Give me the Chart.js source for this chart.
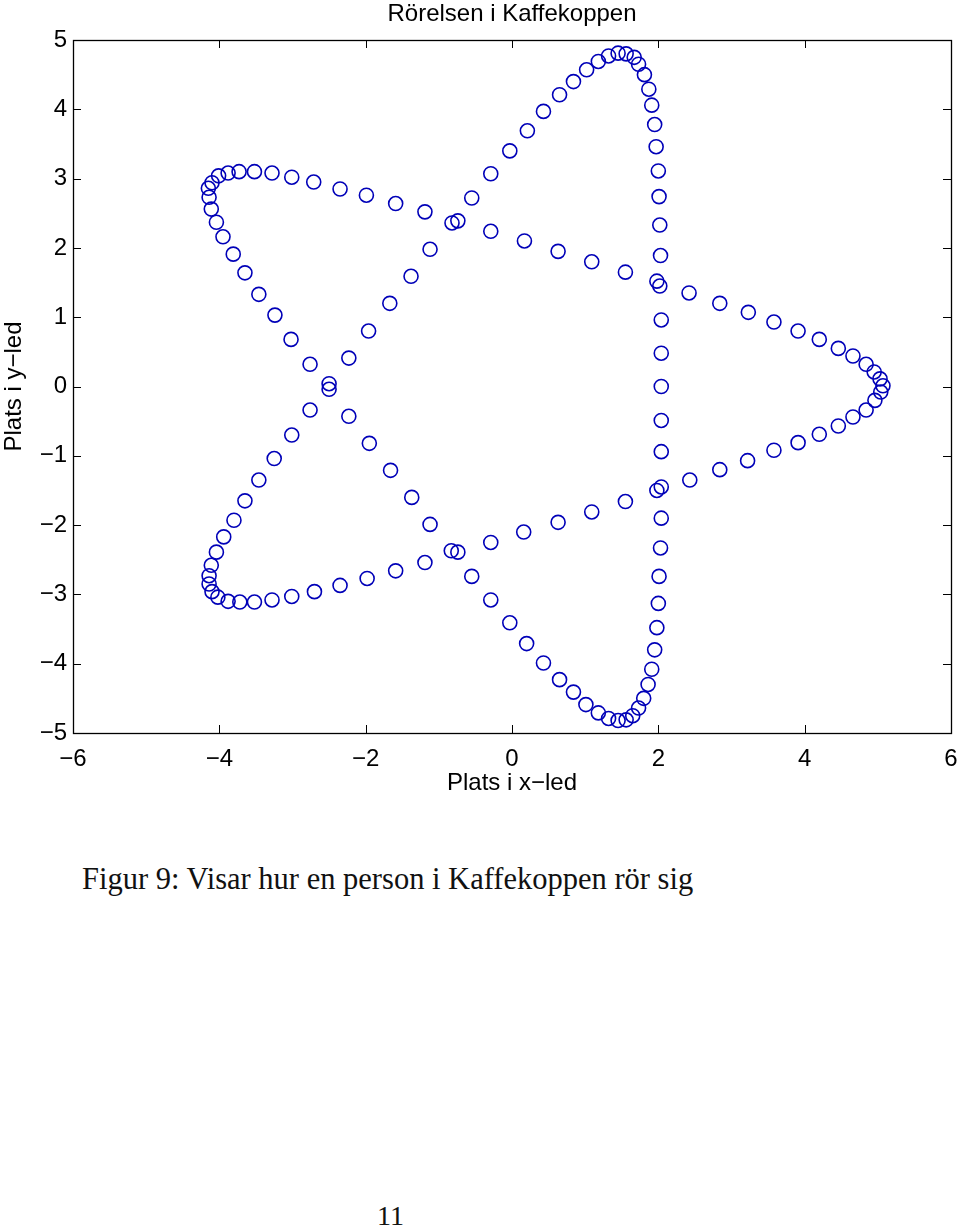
<!DOCTYPE html>
<html>
<head>
<meta charset="utf-8">
<script src="https://cdn.jsdelivr.net/npm/chart.js@4.4.0/dist/chart.umd.min.js"></script>
<style>
  html, body { margin: 0; padding: 0; background: #fff; }
  body { width: 960px; height: 1226px; position: relative; overflow: hidden; }
  #wrap { position: absolute; left: 0; top: 0; width: 960px; height: 810px; }
  .serif { position: absolute; font-family: 'Liberation Serif', 'Times New Roman', serif; line-height: 28px; color: #111; white-space: nowrap; }
  #caption { left: 82px; top: 865px; font-size: 30.5px; }
  #pagenum { left: 377px; top: 1202px; font-size: 28px; }
</style>
</head>
<body>
<div id="wrap"><canvas id="kaffe" width="960" height="810"></canvas></div>
<div id="caption" class="serif">Figur 9: Visar hur en person i Kaffekoppen rör sig</div>
<div id="pagenum" class="serif">11</div>
<script>
// Rörelsen i Kaffekoppen — punkter

const chartTitle = "Rörelsen i Kaffekoppen";
const xTitle = "Plats i x\u2212led";
const yTitle = "Plats i y\u2212led";

const xTickVals = [-6, -4, -2, 0, 2, 4, 6];
const yTickVals = [-5, -4, -3, -2, -1, 0, 1, 2, 3, 4, 5];

// x-led
const xVals = [
  5.03, 4.95, 4.84, 4.66, 4.46, 4.20, 3.91, 3.58, 3.23, 2.84, 2.42, 2.02, 1.98,
  1.55, 1.09, 0.63, 0.17, -0.29, -0.74, -0.82, -1.19, -1.59, -1.99, -2.35, -2.71,
  -3.01, -3.28, -3.52, -3.73, -3.88, -4.01, -4.10, -4.15, -4.14, -4.11, -4.04,
  -3.95, -3.81, -3.65, -3.46, -3.24, -3.02, -2.76, -2.50, -2.50,
  -2.76, -3.01, -3.25, -3.46, -3.65, -3.80, -3.94, -4.04, -4.11, -4.14, -4.14,
  -4.10, -4.02, -3.88, -3.72, -3.52, -3.28, -3.01, -2.70, -2.35, -1.98, -1.59,
  -1.19, -0.83, -0.74, -0.29, 0.16, 0.63, 1.09, 1.55, 1.98, 2.04, 2.43, 2.84,
  3.22, 3.58, 3.91, 4.20, 4.46, 4.66, 4.84, 4.96, 5.04, 5.07,
  -2.23, -1.96, -1.67, -1.38, -1.12, -0.55, -0.29, -0.03, 0.21, 0.43, 0.65, 0.84,
  1.02, 1.18, 1.32, 1.45, 1.56, 1.67, 1.73, 1.81, 1.87, 1.91, 1.95, 1.97, 2.00,
  2.01, 2.02, 2.03, 2.04, 2.04, 2.04, 2.04, 2.04, 2.04, 2.03, 2.01, 2.00, 1.98,
  1.95, 1.91, 1.86, 1.80, 1.73, 1.65, 1.56, 1.45, 1.32, 1.18, 1.01, 0.84, 0.65,
  0.43, 0.20, -0.03, -0.29, -0.55, -1.12, -1.37, -1.66, -1.95, -2.23
];

// y-led
const yVals = [
  0.11, 0.21, 0.32, 0.44, 0.55, 0.68, 0.80, 0.93, 1.07, 1.20, 1.35, 1.45, 1.52,
  1.65, 1.80, 1.95, 2.10, 2.24, 2.39, 2.36, 2.52, 2.64, 2.76, 2.85, 2.95,
  3.02, 3.08, 3.10, 3.10, 3.08, 3.04, 2.94, 2.86, 2.73, 2.56, 2.37,
  2.16, 1.91, 1.64, 1.33, 1.03, 0.68, 0.32, 0.04, -0.04,
  -0.34, -0.70, -1.04, -1.35, -1.65, -1.93, -2.17, -2.39, -2.58, -2.73, -2.85,
  -2.96, -3.04, -3.10, -3.11, -3.11, -3.08, -3.03, -2.96, -2.87, -2.77, -2.66,
  -2.54, -2.37, -2.39, -2.25, -2.10, -1.96, -1.81, -1.66, -1.50, -1.45, -1.35, -1.20,
  -1.07, -0.92, -0.81, -0.69, -0.57, -0.44, -0.34, -0.20, -0.08, 0.01,
  0.41, 0.80, 1.20, 1.59, 1.98, 2.72, 3.07, 3.40, 3.69, 3.97, 4.21, 4.40,
  4.57, 4.69, 4.77, 4.81, 4.80, 4.75, 4.65, 4.50, 4.29, 4.06, 3.78, 3.46, 3.11,
  2.74, 2.33, 1.89, 0.96, 0.48, 0.00, -0.49, -0.94, -1.90, -2.33, -2.74, -3.13, -3.48,
  -3.80, -4.08, -4.30, -4.50, -4.64, -4.75, -4.81, -4.82, -4.79, -4.71, -4.59, -4.41, -4.23,
  -3.99, -3.71, -3.41, -3.08, -2.74, -1.99, -1.60, -1.21, -0.82, -0.43
];

const sansFont = "'Liberation Sans', Arial, Helvetica, sans-serif";
const minus = v => String(v).replace('-', '\u2212');

// ram och inåtriktade tickar som i MATLAB
const matlabFrame = {
  id: 'matlabFrame',
  afterDatasetsDraw(chart) {
    const { ctx, chartArea: a, scales } = chart;
    const len = 8;
    ctx.save();
    ctx.strokeStyle = '#000';
    ctx.lineWidth = 1;
    ctx.beginPath();
    scales.x.ticks.forEach(t => {
      const px = Math.round(scales.x.getPixelForValue(t.value)) + 0.5;
      ctx.moveTo(px, a.bottom); ctx.lineTo(px, a.bottom - len);
      ctx.moveTo(px, a.top); ctx.lineTo(px, a.top + len);
    });
    scales.y.ticks.forEach(t => {
      const py = Math.round(scales.y.getPixelForValue(t.value)) + 0.5;
      ctx.moveTo(a.left, py); ctx.lineTo(a.left + len, py);
      ctx.moveTo(a.right, py); ctx.lineTo(a.right - len, py);
    });
    ctx.stroke();
    ctx.lineWidth = 1.3;
    ctx.strokeRect(Math.round(a.left) + 0.5, Math.round(a.top) + 0.5,
      Math.round(a.right - a.left), Math.round(a.bottom - a.top));
    ctx.restore();
  }
};

new Chart(document.getElementById('kaffe'), {
  type: 'scatter',
  data: {
    datasets: [{
      data: xVals.map((x, i) => ({ x: x, y: yVals[i] })),
      pointStyle: 'circle',
      pointRadius: 7,
      pointHoverRadius: 7,
      borderWidth: 1.6,
      borderColor: '#0000b8',
      backgroundColor: 'rgba(0,0,0,0)'
    }]
  },
  options: {
    responsive: false,
    devicePixelRatio: 1,
    animation: false,
    layout: { padding: { left: 0, right: 9, top: 0, bottom: 0 } },
    plugins: {
      legend: { display: false },
      tooltip: { enabled: false },
      title: {
        display: true,
        fullSize: false,
        text: chartTitle,
        color: '#000',
        font: { family: sansFont, size: 24, weight: 'normal' },
        padding: { top: 0, bottom: 11.2 }
      }
    },
    scales: {
      x: {
        type: 'linear',
        min: -6, max: 6,
        afterBuildTicks: s => { s.ticks = xTickVals.map(v => ({ value: v })); },
        afterFit: s => { s.height = 77; s.paddingLeft = 0; s.paddingRight = 0; },
        grid: { display: false, drawTicks: false },
        border: { display: false },
        ticks: { color: '#000', padding: 12, maxRotation: 0, font: { family: sansFont, size: 24 }, callback: minus },
        title: { display: true, text: xTitle, color: '#000', font: { family: sansFont, size: 24 }, padding: { top: 0, bottom: 12 } }
      },
      y: {
        type: 'linear',
        min: -5, max: 5,
        afterBuildTicks: s => { s.ticks = yTickVals.map(v => ({ value: v })); },
        afterFit: s => { s.width = 73; s.paddingTop = 0; s.paddingBottom = 0; },
        grid: { display: false, drawTicks: false },
        border: { display: false },
        ticks: { color: '#000', padding: 6, font: { family: sansFont, size: 24 }, callback: minus },
        title: { display: true, text: yTitle, color: '#000', font: { family: sansFont, size: 24 }, padding: { top: 0, bottom: 0 } }
      }
    }
  },
  plugins: [matlabFrame]
});
</script>
</body>
</html>
